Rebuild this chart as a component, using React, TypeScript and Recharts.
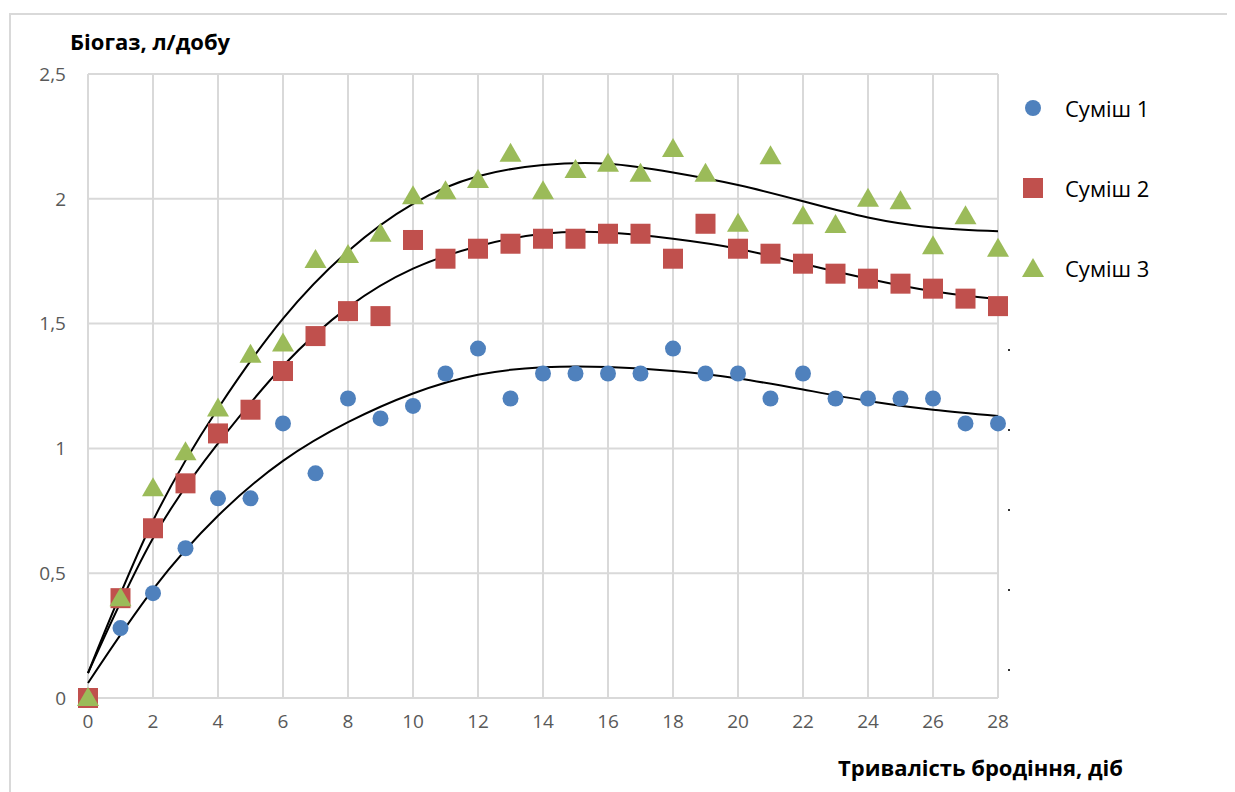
import React from 'react';
import {
    ComposedChart,
    Scatter,
    Line,
    XAxis,
    YAxis,
    CartesianGrid
} from 'recharts';

// days of fermentation
const days = [0, 1, 2, 3, 4, 5, 6, 7, 8, 9, 10, 11, 12, 13, 14, 15, 16, 17, 18, 19, 20, 21, 22, 23, 24, 25, 26, 27, 28];

const mix1 = [0, 0.28, 0.42, 0.6, 0.8, 0.8, 1.1, 0.9, 1.2, 1.12, 1.17, 1.3, 1.4, 1.2, 1.3, 1.3, 1.3, 1.3, 1.4, 1.3, 1.3, 1.2, 1.3, 1.2, 1.2, 1.2, 1.2, 1.1, 1.1];
const mix2 = [0, 0.4, 0.68, 0.86, 1.06, 1.155, 1.31, 1.45, 1.55, 1.53, 1.835, 1.76, 1.8, 1.82, 1.84, 1.84, 1.86, 1.86, 1.76, 1.9, 1.8, 1.78, 1.74, 1.7, 1.68, 1.66, 1.64, 1.6, 1.57];
const mix3 = [0, 0.4, 0.84, 0.985, 1.16, 1.375, 1.42, 1.755, 1.775, 1.86, 2.01, 2.03, 2.075, 2.18, 2.03, 2.115, 2.14, 2.1, 2.2, 2.1, 1.9, 2.17, 1.93, 1.895, 2.0, 1.99, 1.81, 1.93, 1.8];

// trend lines
const trendDays = [0, 2, 4, 6, 8, 10, 12, 14, 16, 18, 20, 22, 24, 26, 28];
const trend1 = [0.06, 0.435, 0.73, 0.95, 1.105, 1.22, 1.295, 1.325, 1.326, 1.31, 1.28, 1.236, 1.19, 1.155, 1.13];
const trend2 = [0.1, 0.64, 1.02, 1.33, 1.565, 1.72, 1.81, 1.86, 1.865, 1.84, 1.8, 1.74, 1.68, 1.63, 1.598];
const trend3 = [0.1, 0.71, 1.16, 1.52, 1.79, 1.98, 2.09, 2.135, 2.14, 2.105, 2.055, 1.99, 1.925, 1.885, 1.87];

const xTicks = [0, 2, 4, 6, 8, 10, 12, 14, 16, 18, 20, 22, 24, 26, 28];
const yTicks = [0, 0.5, 1, 1.5, 2, 2.5];
const seriesNames = ['Суміш 1', 'Суміш 2', 'Суміш 3'];
// stray label dots to the right of the plot
const strayDotsTop = [349, 429, 509, 589, 669];

const BLUE = '#4f81bd';
const RED = '#c0504d';
const GREEN = '#9bbb59';
const FONT = '"Open Sans", sans-serif';

const toPoints = (xs: number[], ys: number[]) => xs.map((x, i) => ({ x, y: ys[i] }));

const CircleMark = (props: any) => <circle cx={props.cx} cy={props.cy} r={8} fill={BLUE} />;
const SquareMark = (props: any) => <rect x={props.cx - 10} y={props.cy - 10} width={20} height={20} fill={RED} />;
const TriangleMark = (props: any) => (
    <polygon
        points={`${props.cx},${props.cy - 11} ${props.cx + 11},${props.cy + 8} ${props.cx - 11},${props.cy + 8}`}
        fill={GREEN}
    />
);

const legendIcon = (i: number) => {
    if (i === 0) return <circle cx={12} cy={12} r={8} fill={BLUE} />;
    if (i === 1) return <rect x={2} y={2} width={20} height={20} fill={RED} />;
    return <polygon points="12,2 23,21 1,21" fill={GREEN} />;
};

const fmt = (v: number) => String(v).replace('.', ',');

export default function App() {
    return (
        <div style={{ position: 'relative', left: -8, top: -8, width: 1235, height: 792, overflow: 'hidden', background: '#fff' }}>
            <div style={{
                position: 'absolute', left: 9, top: 13, width: 1300, height: 900,
                borderTop: '2px solid #d9d9d9', borderLeft: '2px solid #d9d9d9'
            }} />
            <div style={{ position: 'absolute', left: 0, top: 0 }}>
                <ComposedChart
                    width={1235}
                    height={792}
                    margin={{ top: 74, right: 237, left: 0, bottom: 54 }}
                >
                    <CartesianGrid stroke="#d9d9d9" strokeWidth={2} />
                    <XAxis
                        type="number"
                        dataKey="x"
                        domain={[0, 28]}
                        ticks={xTicks}
                        interval={0}
                        axisLine={false}
                        tickLine={false}
                        tickSize={0}
                        tickMargin={17}
                        height={40}
                        tick={{ fontSize: 19, fill: '#595959', fontFamily: FONT }}
                    />
                    <YAxis
                        type="number"
                        dataKey="y"
                        domain={[0, 2.5]}
                        ticks={yTicks}
                        interval={0}
                        axisLine={false}
                        tickLine={false}
                        tickSize={0}
                        tickMargin={22}
                        width={88}
                        tickFormatter={fmt}
                        tick={{ fontSize: 19, fill: '#595959', fontFamily: FONT }}
                    />
                    <Scatter name={seriesNames[0]} data={toPoints(days, mix1)} shape={<CircleMark />} isAnimationActive={false} />
                    <Scatter name={seriesNames[1]} data={toPoints(days, mix2)} shape={<SquareMark />} isAnimationActive={false} />
                    <Scatter name={seriesNames[2]} data={toPoints(days, mix3)} shape={<TriangleMark />} isAnimationActive={false} />
                    <Line data={toPoints(trendDays, trend1)} dataKey="y" type="natural" stroke="#000" strokeWidth={2} dot={false} isAnimationActive={false} />
                    <Line data={toPoints(trendDays, trend2)} dataKey="y" type="natural" stroke="#000" strokeWidth={2} dot={false} isAnimationActive={false} />
                    <Line data={toPoints(trendDays, trend3)} dataKey="y" type="natural" stroke="#000" strokeWidth={2} dot={false} isAnimationActive={false} />
                </ComposedChart>
            </div>
            <div style={{ position: 'absolute', left: 1021, top: 68, fontFamily: FONT }}>
                {seriesNames.map((name, i) => (
                    <div key={name} style={{ display: 'flex', alignItems: 'center', height: 80 }}>
                        <svg width={24} height={24} style={{ marginRight: 20 }}>{legendIcon(i)}</svg>
                        <span style={{ fontSize: 22, color: '#000' }}>{name}</span>
                    </div>
                ))}
            </div>
            {strayDotsTop.map(t => (
                <div key={t} style={{ position: 'absolute', left: 1008, top: t, width: 2, height: 2, background: '#333' }} />
            ))}
            <div style={{ position: 'absolute', left: 70, top: 26, fontFamily: FONT, fontWeight: 700, fontSize: 22, color: '#000' }}>
                Біогаз, л/добу
            </div>
            <div style={{ position: 'absolute', left: 838, top: 752, fontFamily: FONT, fontWeight: 700, fontSize: 22, color: '#000' }}>
                Тривалість бродіння, діб
            </div>
        </div>
    );
}
